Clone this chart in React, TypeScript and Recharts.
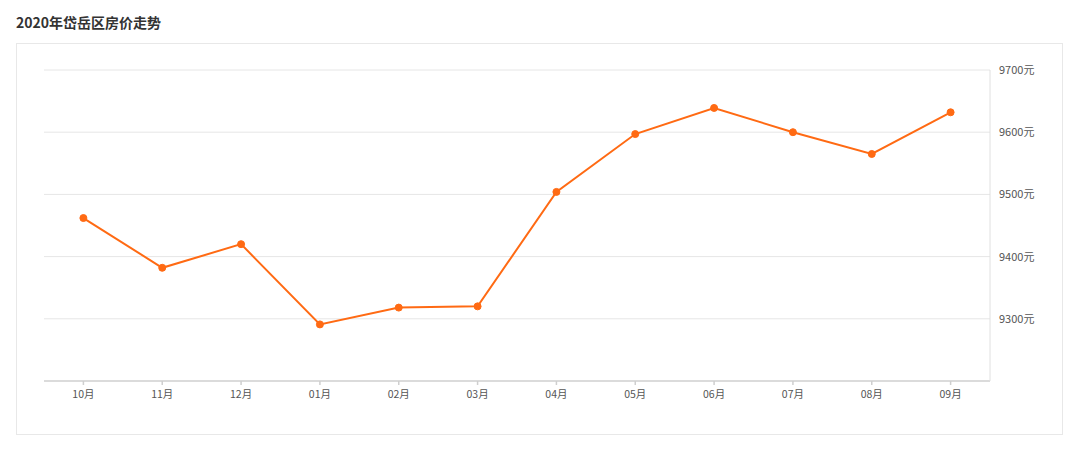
/* 2020年岱岳区房价走势 — monthly price line */
import { LineChart, Line, XAxis, YAxis, CartesianGrid } from 'recharts';

const months = ['10月', '11月', '12月', '01月', '02月', '03月', '04月', '05月', '06月', '07月', '08月', '09月'];
const prices = [9462, 9382, 9420, 9291, 9318, 9320, 9504, 9597, 9639, 9600, 9565, 9632];
const yTicks = [9300, 9400, 9500, 9600, 9700];

const data = months.map((m, i) => ({ month: m, price: prices[i] }));

const W = 1080;
const H = 451;
const FONT = '"Noto Sans CJK SC", "Noto Sans", sans-serif';

export default function App() {
  return (
    <div style={{ position: 'relative', width: W, height: H, margin: -8, background: '#fff', fontFamily: FONT }}>
      <div style={{
        position: 'absolute', left: 16, top: 12, fontSize: 14, fontWeight: 700,
        color: '#333', lineHeight: '20px',
      }}>
        2020年岱岳区房价走势
      </div>
      <div style={{
        position: 'absolute', left: 16, top: 43, width: 1045, height: 390,
        border: '1px solid #e8e8e8',
      }} />
      <div style={{ position: 'absolute', left: 0, top: 0 }}>
        <LineChart width={W} height={H} data={data} margin={{ top: 70, right: 30, bottom: 0, left: 44 }}>
          <CartesianGrid vertical={false} stroke="#e6e6e6" horizontalValues={yTicks} />
          <XAxis
            dataKey="month"
            padding={{ left: 39.4, right: 39.4 }}
            stroke="#cfcfcf"
            strokeWidth={1.5}
            tickSize={4}
            tickMargin={6}
            height={70}
            tick={{ fontSize: 10.5, fill: '#555', fontFamily: FONT }}
          />
          <YAxis
            orientation="right"
            domain={[9200, 9700]}
            ticks={yTicks}
            width={60}
            stroke="#e0e0e0"
            tickLine={false}
            tickMargin={3}
            tickFormatter={(v: number) => `${v}元`}
            tick={{ fontSize: 11, fill: '#555', fontFamily: FONT, textAnchor: 'start' }}
          />
          <Line
            type="linear"
            dataKey="price"
            stroke="#ff6a13"
            strokeWidth={2}
            dot={{ r: 3.5, fill: '#ff6a13', stroke: '#ff6a13', strokeWidth: 1 }}
            isAnimationActive={false}
          />
        </LineChart>
      </div>
    </div>
  );
}
